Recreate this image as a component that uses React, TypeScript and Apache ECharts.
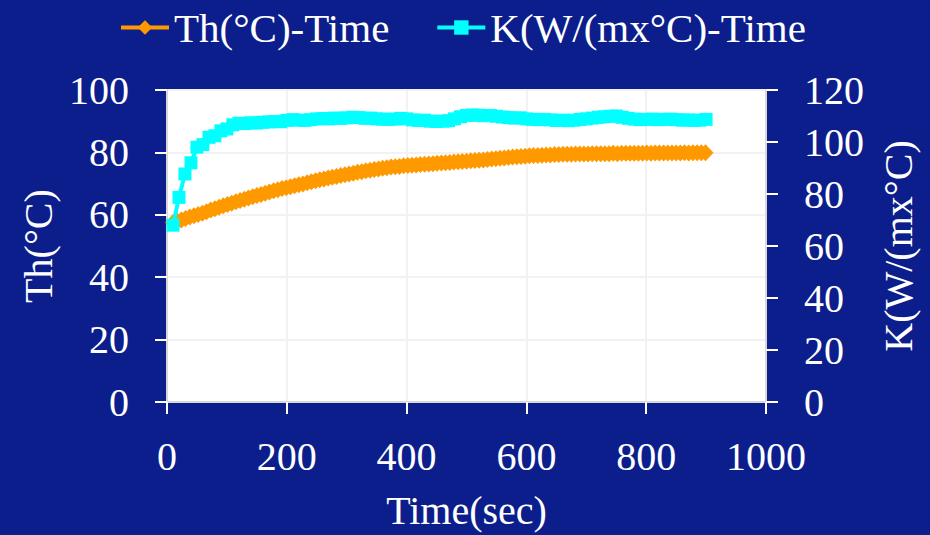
import React, { useEffect, useRef } from "react";
import * as echarts from "echarts";

// Th(°C) readings: [time (s), temperature]
const thData: [number, number][] = [
  [10, 57.5], [17, 57.9], [24, 58.3], [31, 58.8], [38, 59.3], [45, 59.7], [52, 60.1], [59, 60.5],
  [66, 61.0], [73, 61.5], [80, 61.9], [87, 62.4], [94, 62.9], [101, 63.3], [108, 63.7], [115, 64.2],
  [122, 64.6], [129, 65.0], [136, 65.4], [143, 65.8], [150, 66.2], [157, 66.5], [164, 66.9], [171, 67.3],
  [178, 67.7], [185, 68.0], [192, 68.4], [199, 68.7], [206, 69.0], [213, 69.3], [220, 69.6], [227, 69.9],
  [234, 70.3], [241, 70.6], [248, 70.9], [255, 71.2], [262, 71.5], [269, 71.8], [276, 72.0], [283, 72.3],
  [290, 72.6], [297, 72.8], [304, 73.1], [311, 73.3], [318, 73.6], [325, 73.8], [332, 74.1], [339, 74.3],
  [346, 74.5], [353, 74.7], [360, 74.9], [367, 75.1], [374, 75.3], [381, 75.4], [388, 75.5], [395, 75.7],
  [402, 75.8], [409, 75.9], [416, 76.0], [423, 76.1], [430, 76.2], [437, 76.3], [444, 76.4], [451, 76.5],
  [458, 76.6], [465, 76.7], [472, 76.8], [479, 76.9], [486, 77.0], [493, 77.1], [500, 77.2], [507, 77.3],
  [514, 77.4], [521, 77.5], [528, 77.6], [535, 77.7], [542, 77.9], [549, 78.0], [556, 78.1], [563, 78.2],
  [570, 78.4], [577, 78.5], [584, 78.6], [591, 78.7], [598, 78.8], [605, 78.9], [612, 79.0], [619, 79.0],
  [626, 79.1], [633, 79.2], [640, 79.2], [647, 79.3], [654, 79.3], [661, 79.4], [668, 79.4], [675, 79.4],
  [682, 79.5], [689, 79.5], [696, 79.5], [703, 79.5], [710, 79.6], [717, 79.6], [724, 79.6], [731, 79.6],
  [738, 79.6], [745, 79.7], [752, 79.6], [759, 79.7], [766, 79.7], [773, 79.7], [780, 79.7], [787, 79.7],
  [794, 79.7], [801, 79.8], [808, 79.7], [815, 79.8], [822, 79.8], [829, 79.8], [836, 79.8], [843, 79.8],
  [850, 79.8], [857, 79.8], [864, 79.9], [871, 79.8], [878, 79.9], [885, 79.9], [892, 79.9], [899, 79.9],
];

// K(W/(mx°C)) readings: [time (s), conductivity]
const kData: [number, number][] = [
  [10, 68.0], [20, 78.7], [30, 87.7], [40, 92.0], [50, 98.0], [60, 99.0], [70, 101.8], [80, 102.4],
  [90, 104.3], [100, 105.0], [110, 106.6], [120, 107.2], [130, 107.1], [140, 107.4], [150, 107.3],
  [160, 107.6], [170, 107.7], [180, 107.9], [190, 107.8], [200, 108.3], [210, 108.6], [220, 108.4],
  [230, 108.3], [240, 108.6], [250, 108.9], [260, 109.0], [270, 108.9], [280, 109.2], [290, 109.1],
  [300, 109.3], [310, 109.5], [320, 109.4], [330, 109.1], [340, 109.2], [350, 108.9], [360, 108.8],
  [370, 108.7], [380, 108.8], [390, 109.1], [400, 108.9], [410, 108.5], [420, 108.3], [430, 108.4],
  [440, 108.0], [450, 107.9], [460, 108.0], [470, 108.2], [480, 108.9], [490, 109.7], [500, 110.2],
  [510, 110.4], [520, 110.3], [530, 110.1], [540, 110.2], [550, 109.9], [560, 109.6], [570, 109.4],
  [580, 109.2], [590, 109.3], [600, 108.9], [610, 108.7], [620, 108.6], [630, 108.7], [640, 108.5],
  [650, 108.3], [660, 108.4], [670, 108.2], [680, 108.4], [690, 108.7], [700, 108.9], [710, 109.2],
  [720, 109.5], [730, 109.7], [740, 109.9], [750, 110.0], [760, 109.5], [770, 109.1], [780, 108.8],
  [790, 108.6], [800, 108.7], [810, 108.8], [820, 108.6], [830, 108.7], [840, 108.8], [850, 108.6],
  [860, 108.4], [870, 108.5], [880, 108.3], [890, 108.4], [900, 108.7],
];

const seriesNames = ["Th(°C)-Time", "K(W/(mx°C)-Time"];
const axisNames = { x: "Time(sec)", left: "Th(°C)", right: "K(W/(mx°C)" };
const xRange = { min: 0, max: 1000, interval: 200 };
const leftRange = { min: 0, max: 100, interval: 20 };
const rightRange = { min: 0, max: 120, interval: 20 };

const BG = "#0c1e8c";
const FONT = "'Times New Roman', 'Liberation Serif', serif";
const ORANGE = "#ff9900";
const CYAN = "#00ffff";

export default function App() {
  const ref = useRef<HTMLDivElement>(null);
  useEffect(() => {
    if (!ref.current) return;
    const chart = echarts.init(ref.current, undefined, { renderer: "svg" });
    const labelStyle = { color: "#ffffff", fontFamily: FONT, fontSize: 40 };
    const plain = (v: number) => String(v);
    chart.setOption({
      animation: false,
      backgroundColor: BG,
      textStyle: { fontFamily: FONT },
      legend: {
        top: 2,
        left: 114,
        itemGap: 46,
        itemWidth: 48,
        itemHeight: 18,
        lineStyle: { width: 4 },
        textStyle: { ...labelStyle, fontSize: 41 },
        data: seriesNames,
      },
      grid: {
        left: 167,
        right: 164,
        top: 90,
        bottom: 127,
        show: true,
        backgroundColor: "#ffffff",
        borderColor: "#a8a8a8",
        borderWidth: 2,
      },
      xAxis: {
        type: "value",
        ...xRange,
        name: axisNames.x,
        nameLocation: "middle",
        nameGap: 88,
        nameTextStyle: labelStyle,
        axisLine: { show: true, onZero: false, lineStyle: { color: "#d8d8d8", width: 2 } },
        axisTick: { show: true, length: 12, lineStyle: { color: "#ffffff", width: 2 } },
        axisLabel: { ...labelStyle, margin: 34, formatter: plain },
        splitLine: { show: true, lineStyle: { color: "#f2f2f2", width: 2 } },
      },
      yAxis: [
        {
          type: "value",
          ...leftRange,
          position: "left",
          name: axisNames.left,
          nameLocation: "middle",
          nameGap: 102,
          nameTextStyle: labelStyle,
          axisLine: { show: true, lineStyle: { color: "#d8d8d8", width: 2 } },
          axisTick: { show: true, length: 12, lineStyle: { color: "#ffffff", width: 2 } },
          axisLabel: { ...labelStyle, margin: 38, formatter: plain },
          splitLine: { show: true, lineStyle: { color: "#f2f2f2", width: 2 } },
        },
        {
          type: "value",
          ...rightRange,
          position: "right",
          name: axisNames.right,
          nameLocation: "middle",
          nameGap: 112,
          nameRotate: 90,
          nameTextStyle: labelStyle,
          axisLine: { show: true, lineStyle: { color: "#d8d8d8", width: 2 } },
          axisTick: { show: true, length: 12, lineStyle: { color: "#ffffff", width: 2 } },
          axisLabel: { ...labelStyle, margin: 38, formatter: plain },
          splitLine: { show: false },
        },
      ],
      series: [
        {
          name: seriesNames[0],
          type: "line",
          yAxisIndex: 0,
          data: thData,
          symbol: "diamond",
          symbolSize: [16, 17],
          color: ORANGE,
          lineStyle: { color: ORANGE, width: 3 },
          itemStyle: { color: ORANGE },
          z: 2,
        },
        {
          name: seriesNames[1],
          type: "line",
          yAxisIndex: 1,
          data: kData,
          symbol: "rect",
          symbolSize: 13,
          color: CYAN,
          lineStyle: { color: CYAN, width: 4 },
          itemStyle: { color: CYAN },
          z: 3,
        },
      ],
    });
    return () => chart.dispose();
  }, []);
  return (
    <div
      ref={ref}
      style={{ position: "absolute", left: 0, top: 0, width: 930, height: 535 }}
    />
  );
}
